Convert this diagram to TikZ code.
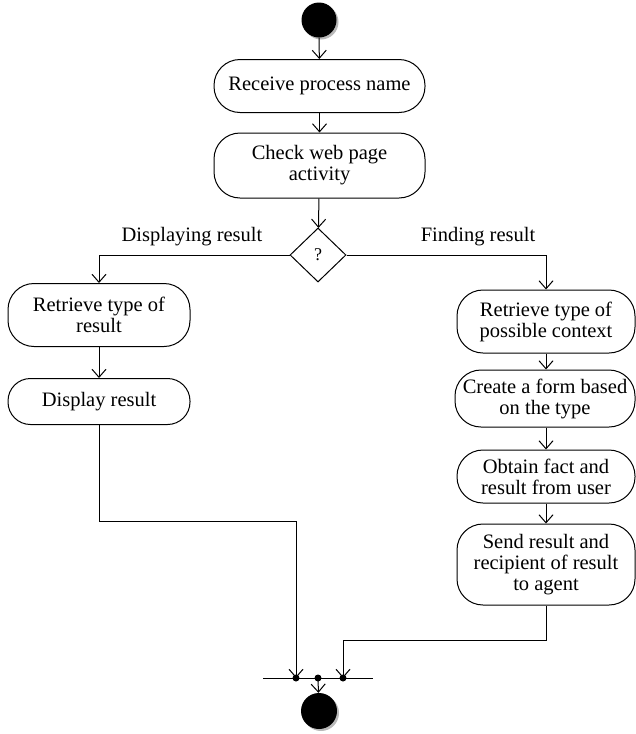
\documentclass[tikz,border=0pt]{standalone}
\usepackage{fontspec}
\setmainfont{Liberation Serif}
\usetikzlibrary{shapes.geometric,arrows.meta}
\tikzset{
  act/.style={draw, line width=1pt, rounded corners=26pt, align=center, inner sep=0pt, font=\fontsize{20.5}{21}\selectfont},
  arr/.style={line width=1pt, -{Straight Barb[length=8pt,width=14pt,line width=1pt]}},
  ln/.style={line width=1pt},
  lbl/.style={font=\fontsize{20.5}{21}\selectfont, inner sep=0pt},
  shadowc/.style={fill=gray!55},
}
\begin{document}
\begin{tikzpicture}[x=1pt,y=-1pt]
\useasboundingbox (0,0) rectangle (635,734);
% start
\fill[shadowc] (321,22) circle (17.5pt);
\node[circle, fill=black, minimum size=35pt, inner sep=0pt] (start) at (319,20) {};
\node[act, minimum width=211pt, minimum height=53pt] (b1) at (319.5,86) {Receive process name};
\node[act, minimum width=211pt, minimum height=65pt] (b2) at (319.5,165.5) {Check web page\\activity};
\node[draw, line width=1pt, diamond, aspect=1.05, minimum width=56pt, minimum height=54pt, inner sep=0pt, font=\fontsize{18}{20}\selectfont] (d) at (318,255) {?};
\node[act, minimum width=182pt, minimum height=63pt] (l1) at (99,315) {Retrieve type of\\result};
\node[act, rounded corners=22.5pt, minimum width=182pt, minimum height=46pt] (l2) at (99,401.5) {Display result};
\node[act, minimum width=178pt, minimum height=63pt] (r1) at (546,321.5) {Retrieve type of\\possible context};
\node[act, minimum width=180pt, minimum height=57pt] (r2) at (545,398.5) {Create a form based\\on the type};
\node[act, minimum width=178pt, minimum height=53pt] (r3) at (546,476.5) {Obtain fact and\\result from user};
\node[act, minimum width=178pt, minimum height=81pt] (r4) at (546,564.5) {Send result and\\recipient of result\\to agent};
\node[lbl] (tl) at (192,237) {Displaying result};
\node[lbl] (tr) at (478,237) {Finding result};
% join bar
\coordinate (bl) at (263,678);
\coordinate (br) at (373,678);
\coordinate (j1) at (296,678);
\coordinate (j0) at (318,678);
\coordinate (j2) at (343,678);
\draw[ln] (bl) -- (br);
\fill (j1) circle (3.5pt) (j0) circle (3.5pt) (j2) circle (3.5pt);
% end
\fill[shadowc] (321,713) circle (18pt);
\node[circle, fill=black, minimum size=36pt, inner sep=0pt] (end) at (319,711) {};
% connectors
\draw[arr] (start) -- (b1);
\draw[arr] (b1) -- (b2);
\draw[arr] (b2) -- (d);
\draw[arr] (d.west) -| (l1.north);
\draw[arr] (d.east) -| (r1.north);
\draw[arr] (l1) -- (l2);
\draw[arr] (r1.south) -- (r1.south |- r2.north);
\draw[arr] (r2.south -| r1.south) -- (r3.north);
\draw[arr] (r3) -- (r4);
\draw[arr] (l2.south) |- (296,521) -- (j1);
\draw[arr] (r4.south) |- (343,640) -- (j2);
\draw[arr] (j0) -- (end);
\end{tikzpicture}
\end{document}
